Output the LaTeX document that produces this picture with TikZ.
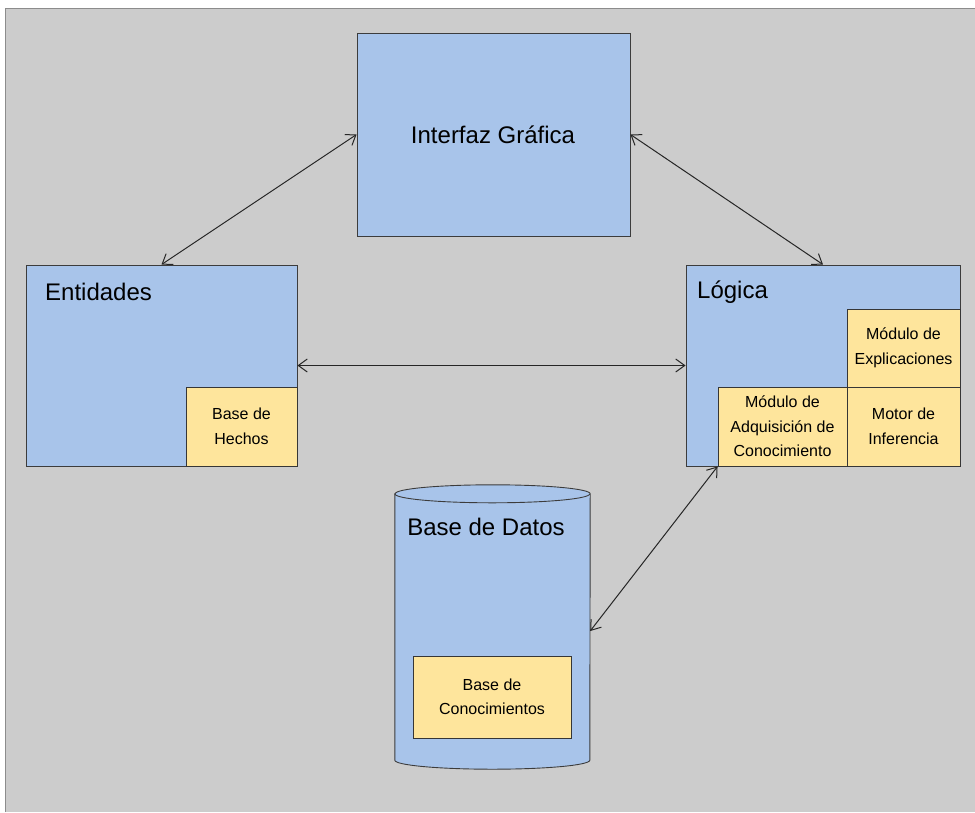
\documentclass[tikz,border=0pt]{standalone}
\usepackage{fontspec}
\setmainfont{Liberation Sans}
\usetikzlibrary{arrows.meta}
\definecolor{bgray}{RGB}{204,204,204}
\definecolor{boxblue}{RGB}{168,196,234}
\definecolor{boxyellow}{RGB}{254,229,156}
\definecolor{edge}{RGB}{60,60,60}
\tikzset{
  bluebox/.style={rectangle, draw=edge, line width=0.9pt, fill=boxblue, inner sep=0pt},
  yellowbox/.style={rectangle, draw=edge!90!black, line width=0.9pt, fill=boxyellow, inner sep=0pt, align=center,
    font=\fontsize{16}{24.5}\selectfont},
  bigtext/.style={font=\fontsize{24}{28}\selectfont, inner sep=0pt},
  link/.style={draw=black!85, line width=1pt, {Straight Barb[length=9pt,width=13pt]}-{Straight Barb[length=9pt,width=13pt]}}
}
\begin{document}
\begin{tikzpicture}[x=1pt,y=-1pt]
\useasboundingbox (0,0) rectangle (975,812);
\fill[white] (0,0) rectangle (975,812);
\fill[bgray] (5,8) rectangle (975,812);
\draw[black!45, line width=1.2pt] (5.5,812) -- (5.5,8.5) -- (975,8.5);

% Interfaz
\node[bluebox, minimum width=273pt, minimum height=203pt] (gui) at (493.5,134.5) {};
\node[bigtext] (guit) at (493,135) {Interfaz Gráfica};

% Entidades
\node[bluebox, minimum width=271pt, minimum height=201pt] (ent) at (161.5,365.5) {};
\node[bigtext, anchor=west] (entt) at (45,292) {Entidades};
\node[yellowbox, minimum width=111pt, minimum height=79pt] (hech) at (241.5,426.5) {Base de\\Hechos};

% Logica
\node[bluebox, minimum width=274pt, minimum height=201pt] (log) at (823,365.5) {};
\node[bigtext, anchor=west] (logt) at (697,292) {Lógica};
\node[yellowbox, minimum width=113pt, minimum height=78pt] (expl) at (903.5,348) {Módulo de\\Explicaciones};
\node[yellowbox, minimum width=129pt, minimum height=79pt] (adq) at (782.5,426.5) {Módulo de\\Adquisición de\\Conocimiento};
\node[yellowbox, minimum width=113pt, minimum height=79pt] (mot) at (903.5,426.5) {Motor de\\Inferencia};

% Base de Datos cylinder
\node[rectangle, inner sep=0pt, minimum width=195pt, minimum height=266pt] (db) at (492.5,627) {};
\fill[boxblue, draw=edge, line width=0.9pt]
  (db.north west) -- (db.south west)
  arc[start angle=180, end angle=360, x radius=97.5pt, y radius=9pt]
  -- (db.north east)
  arc[start angle=0, end angle=180, x radius=97.5pt, y radius=9pt] -- cycle;
\draw[edge, line width=0.9pt] (db.north west) arc[start angle=180, end angle=360, x radius=97.5pt, y radius=9pt];
\node[bigtext] (dbt) at (486,527) {Base de Datos};
\node[yellowbox, minimum width=158pt, minimum height=82pt] (bc) at (492,697) {Base de\\Conocimientos};

% connectors
\draw[link] (ent.north) -- (gui.west);
\draw[link] (gui.east) -- (log.north);
\draw[link] (ent.east) -- (log.west);
\draw[link] (adq.south west) -- ([yshift=-4pt]db.east);
\end{tikzpicture}
\end{document}
